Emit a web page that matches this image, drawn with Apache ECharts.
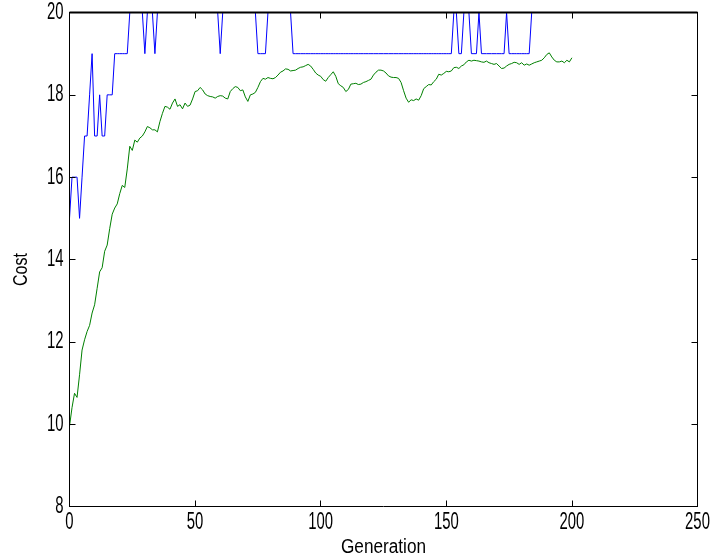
<!DOCTYPE html>
<html>
<head>
<meta charset="utf-8">
<script src="https://cdn.jsdelivr.net/npm/echarts@6/dist/echarts.min.js"></script>
<style>
html,body{margin:0;padding:0;background:#fff;}
#c{width:711px;height:559px;}
</style>
</head>
<body>
<div id="c"></div>
<script>
// Best cost per generation (blue), generations 0..200
const bestCost = [
15,16,16,16,15,16,17,17,18,19,17,17,18,17,17,18,18,18,19,19,
19,19,19,19,20,20,20,20,20,20,19,20,20,20,19,20,20,20,20,20,
20,20,20,20,20,20,20,20,20,20,20,20,20,20,20,20,20,20,20,20,
19,20,20,20,20,20,20,20,20,20,20,20,20,20,20,19,19,19,19,20,
20,20,20,20,20,20,20,20,20,19,19,19,19,19,19,19,19,19,19,19,
19,19,19,19,19,19,19,19,19,19,19,19,19,19,19,19,19,19,19,19,
19,19,19,19,19,19,19,19,19,19,19,19,19,19,19,19,19,19,19,19,
19,19,19,19,19,19,19,19,19,19,19,19,19,20,20,19,19,20,20,20,
19,19,19,20,19,19,19,19,19,19,19,19,19,19,20,19,19,19,19,19,
19,19,19,19,20,20,20,20,20,20,20,20,20,20,20,20,20,20,20,20,
20
];
// Mean cost per generation (green), generations 0..200
const meanCost = [
9.95,10.4,10.75,10.65,11.2,11.8,12.05,12.25,12.4,12.7,
12.9,13.3,13.7,13.8,14.2,14.35,14.75,15.1,15.25,15.35,
15.6,15.8,15.75,16.2,16.75,16.65,16.9,16.85,16.95,17.0,
17.1,17.23,17.2,17.15,17.15,17.1,17.35,17.55,17.72,17.7,
17.65,17.8,17.9,17.72,17.76,17.66,17.8,17.72,17.75,17.9,
18.08,18.1,18.18,18.12,18.02,17.98,17.96,17.95,17.92,17.96,
17.98,17.97,17.92,17.9,18.08,18.15,18.2,18.18,18.1,18.12,
17.95,17.84,18.0,18.02,18.06,18.18,18.32,18.4,18.38,18.42,
18.4,18.39,18.42,18.48,18.55,18.58,18.63,18.62,18.58,18.59,
18.6,18.64,18.67,18.68,18.71,18.74,18.7,18.62,18.53,18.48,
18.45,18.37,18.33,18.42,18.49,18.56,18.45,18.27,18.22,18.18,
18.08,18.13,18.26,18.27,18.28,18.25,18.26,18.3,18.32,18.35,
18.38,18.48,18.55,18.6,18.6,18.58,18.53,18.46,18.43,18.42,
18.42,18.4,18.3,18.1,17.92,17.82,17.88,17.86,17.9,17.87,
17.98,18.15,18.2,18.25,18.24,18.32,18.38,18.5,18.48,18.52,
18.57,18.56,18.58,18.66,18.67,18.64,18.7,18.73,18.8,18.84,
18.82,18.84,18.83,18.82,18.8,18.79,18.82,18.78,18.76,18.74,
18.76,18.7,18.64,18.65,18.7,18.74,18.76,18.79,18.78,18.74,
18.78,18.72,18.75,18.72,18.75,18.78,18.8,18.82,18.84,18.9,
18.98,19.02,18.92,18.84,18.8,18.8,18.82,18.78,18.84,18.8,
18.9
];
const xTicks = [0, 50, 100, 150, 200, 250];
const yTicks = [8, 10, 12, 14, 16, 18, 20];
const xName = 'Generation';
const yName = 'Cost';

const generations = bestCost.map((_, i) => i);
const FONT = '"Liberation Sans", Arial, sans-serif';

const chart = echarts.init(document.getElementById('c'), null, {renderer: 'canvas'});
const axisCommon = {
  z: 10,
  axisLine: {show: true, onZero: false, lineStyle: {color: '#000', width: 1}},
  axisTick: {show: true, inside: true, length: 6, lineStyle: {color: '#000', width: 1}},
  splitLine: {show: false},
  axisLabel: {show: false}
};
chart.setOption({
  animation: false,
  backgroundColor: '#fff',
  grid: {left: 69.5, right: 13.5, top: 12.5, bottom: 52.5, show: false},
  xAxis: [
    Object.assign({}, axisCommon, {
      type: 'value', min: xTicks[0], max: xTicks[xTicks.length - 1], interval: 50
    }),
    Object.assign({}, axisCommon, {
      type: 'value', position: 'top', min: xTicks[0], max: xTicks[xTicks.length - 1], interval: 50
    })
  ],
  yAxis: [
    Object.assign({}, axisCommon, {
      type: 'value', min: yTicks[0], max: yTicks[yTicks.length - 1], interval: 2
    }),
    Object.assign({}, axisCommon, {
      type: 'value', position: 'right', min: yTicks[0], max: yTicks[yTicks.length - 1], interval: 2
    })
  ],
  series: [
    {
      type: 'line', name: 'best', xAxisIndex: 0, yAxisIndex: 0,
      data: generations.map((g, i) => [g, bestCost[i]]),
      showSymbol: false, symbol: 'none', clip: true,
      lineStyle: {color: '#0000ff', width: 1}, z: 2
    },
    {
      type: 'line', name: 'mean', xAxisIndex: 0, yAxisIndex: 0,
      data: generations.map((g, i) => [g, meanCost[i]]),
      showSymbol: false, symbol: 'none', clip: true,
      lineStyle: {color: '#008000', width: 1}, z: 3
    }
  ]
});

// Condensed (MATLAB-like) text labels placed via the axes' own scales
const graphics = [];
const tickFont = '24px ' + FONT;
const sx = 0.62;
const axisBottom = chart.convertToPixel({yAxisIndex: 0}, yTicks[0]);
const axisTop = chart.convertToPixel({yAxisIndex: 0}, yTicks[yTicks.length - 1]);
const axisLeft = chart.convertToPixel({xAxisIndex: 0}, xTicks[0]);
const axisRight = chart.convertToPixel({xAxisIndex: 0}, xTicks[xTicks.length - 1]);
// top frame edge drawn above the series (the MATLAB box covers lines at the limit)
graphics.push({
  type: 'line', z: 100, silent: true,
  shape: {x1: axisLeft, y1: axisTop, x2: axisRight, y2: axisTop},
  style: {stroke: '#000', lineWidth: 2}
});
xTicks.forEach(v => {
  graphics.push({
    type: 'text', x: chart.convertToPixel({xAxisIndex: 0}, v), y: axisBottom + 4,
    scaleX: sx, silent: true,
    style: {text: String(v), font: tickFont, fill: '#000', align: 'center', verticalAlign: 'top'}
  });
});
yTicks.forEach(v => {
  graphics.push({
    type: 'text', x: axisLeft - 6, y: chart.convertToPixel({yAxisIndex: 0}, v),
    scaleX: sx, silent: true,
    style: {text: String(v), font: tickFont, fill: '#000', align: 'right', verticalAlign: 'middle'}
  });
});
graphics.push({
  type: 'text', x: (axisLeft + axisRight) / 2, y: axisBottom + 41,
  scaleX: 0.86, silent: true,
  style: {text: xName, font: '20px ' + FONT, fill: '#000', align: 'center', verticalAlign: 'middle'}
});
graphics.push({
  type: 'text', x: 21, y: (axisBottom + axisTop) / 2 + 10,
  rotation: Math.PI / 2, scaleX: 0.8, silent: true,
  style: {text: yName, font: '20px ' + FONT, fill: '#000', align: 'center', verticalAlign: 'middle'}
});
chart.setOption({graphic: graphics});
</script>
</body>
</html>
